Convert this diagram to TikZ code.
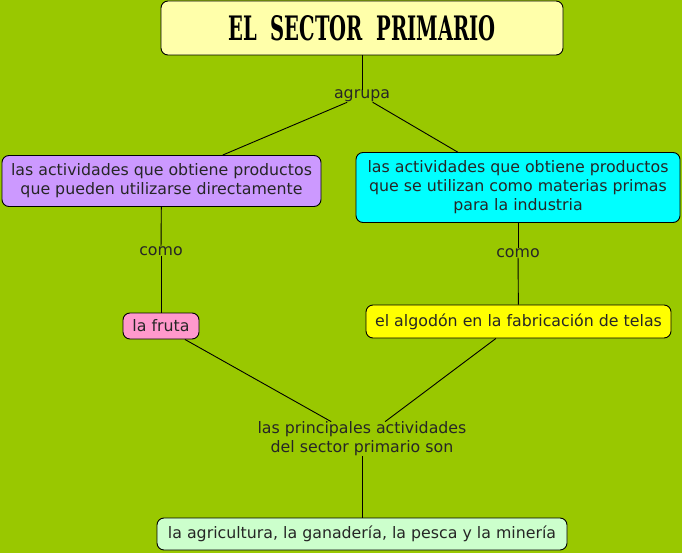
\documentclass[tikz,border=0pt]{standalone}
\usepackage{fontspec}
\usepackage{graphicx}
\setmainfont{DejaVu Sans}
\newfontfamily\titlefont{DejaVu Serif}
\definecolor{bggreen}{RGB}{153,200,0}
\definecolor{titlefill}{RGB}{255,255,170}
\definecolor{purplefill}{RGB}{204,153,255}
\definecolor{cyanfill}{RGB}{0,255,255}
\definecolor{pinkfill}{RGB}{255,153,204}
\definecolor{yellowfill}{RGB}{255,255,0}
\definecolor{greenfill}{RGB}{204,255,204}
\begin{document}
\begin{tikzpicture}[x=1pt,y=-1pt,
  concept/.style={draw=black, line width=0.9pt, rounded corners=7pt, inner sep=0pt, align=center,
    font=\fontsize{15.8pt}{19pt}\selectfont, text=black!85},
  linker/.style={inner sep=0pt, align=center, font=\fontsize{15.8pt}{19pt}\selectfont, text=black!85},
  conn/.style={draw=black, line width=0.9pt}]
\fill[bggreen] (0,0) rectangle (682,553);
\useasboundingbox (0,0) rectangle (682,553);

\node[concept, fill=titlefill, minimum width=402pt, minimum height=54pt, text=black] (title) at (362,28)
  {\resizebox{267pt}{25pt}{\titlefont\bfseries EL\ \ SECTOR\ \ PRIMARIO}};
\node[linker] (agrupa) at (362,96) {agrupa};
\node[concept, fill=purplefill, minimum width=319pt, minimum height=51pt] (left) at (161.5,181)
  {las actividades que obtiene productos\\que pueden utilizarse directamente};
\node[concept, fill=cyanfill, minimum width=324pt, minimum height=70pt] (right) at (518,187.5)
  {las actividades que obtiene productos\\que se utilizan como materias primas\\para la industria};
\node[linker] (como1) at (161,251) {como};
\node[linker] (como2) at (518,253) {como};
\node[concept, fill=pinkfill, minimum width=76pt, minimum height=26pt] (fruta) at (161,326) {la fruta};
\node[concept, fill=yellowfill, minimum width=305pt, minimum height=33pt] (algodon) at (518.5,321.5)
  {el algodón en la fabricación de telas};
\node[linker] (principales) at (362,439) {las principales actividades\\del sector primario son};
\node[concept, fill=greenfill, minimum width=410pt, minimum height=32pt] (bottom) at (362,534)
  {la agricultura, la ganadería, la pesca y la minería};

\draw[conn] (title) -- (agrupa);
\draw[conn] (agrupa) -- (left);
\draw[conn] (agrupa) -- (right);
\draw[conn] (left) -- (como1);
\draw[conn] (como1) -- (fruta);
\draw[conn] (right) -- (como2);
\draw[conn] (como2) -- (algodon);
\draw[conn] (fruta) -- (principales);
\draw[conn] (algodon) -- (principales);
\draw[conn] (principales) -- (bottom);
\end{tikzpicture}
\end{document}
